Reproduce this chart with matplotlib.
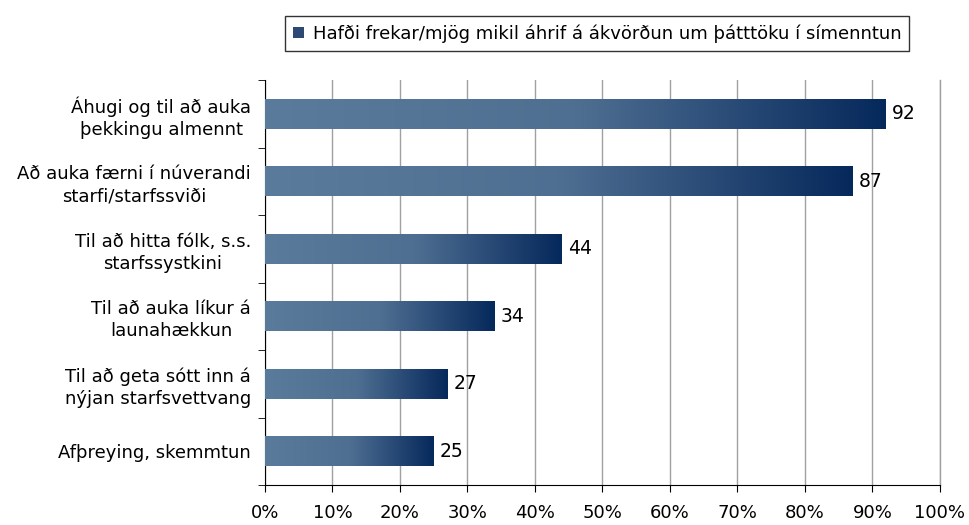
import numpy as np
import matplotlib
matplotlib.use("Agg")
import matplotlib.pyplot as plt
from matplotlib.colors import LinearSegmentedColormap
from matplotlib.patches import Rectangle

categories = [
    "Áhugi og til að auka\nþekkingu almennt",
    "Að auka færni í núverandi\nstarfi/starfssviði",
    "Til að hitta fólk, s.s.\nstarfssystkini",
    "Til að auka líkur á\nlaunahækkun",
    "Til að geta sótt inn á\nnýjan starfsvettvang",
    "Afþreying, skemmtun",
]
values = [92, 87, 44, 34, 27, 25]
legend_label = "Hafði frekar/mjög mikil áhrif á ákvörðun um þátttöku í símenntun"
xticks = [0, 10, 20, 30, 40, 50, 60, 70, 80, 90, 100]

plt.rcParams['font.family'] = ['DejaVu Sans']
fs = 13

fig = plt.figure(figsize=(9.7, 5.25), dpi=100)
ax = fig.add_axes([265/970, 1-485/525, 675/970, 405/525])

cmap = LinearSegmentedColormap.from_list("g", ["#5b7b9c", "#4f6f92", "#06295c"])
grad = np.linspace(0, 1, 256).reshape(1, -1)
n = len(categories)
ypos = np.arange(n)
bh = 0.44
for y, v in zip(ypos, values):
    ax.imshow(grad, cmap=cmap, aspect='auto', extent=[0, v, y + bh/2, y - bh/2],
              zorder=3, interpolation='bilinear')
    ax.text(v + 0.9, y, f"{v}", va='center', ha='left', fontsize=13.5, zorder=4)

ax.set_xlim(0, 100)
ax.set_ylim(n - 0.5, -0.5)
ax.set_xticks(xticks)
ax.set_xticklabels([f"{t}%" for t in xticks], fontsize=fs)
ax.set_yticks(ypos)
ax.set_yticklabels(categories, fontsize=fs, ha='right', linespacing=1.3)
ax.tick_params(axis='y', length=0, pad=10)
ax.set_yticks(np.arange(-0.5, n, 1), minor=True)
ax.tick_params(axis='y', which='minor', length=5, direction='out')
ax.tick_params(axis='x', length=5, direction='out', pad=9)
for lbl in ax.get_yticklabels():
    lbl.set_multialignment('center')

ax.grid(axis='x', color='#a0a0a0', linewidth=1, zorder=0)
ax.axvline(100, color='#a0a0a0', linewidth=1, zorder=0, clip_on=False)
ax.set_axisbelow(True)
for s in ['top', 'right']:
    ax.spines[s].set_visible(False)
ax.spines['left'].set_color('black')
ax.spines['bottom'].set_color('black')

handle = Rectangle((0, 0), 1, 1, facecolor='#2c4a74', edgecolor='none')
leg = fig.legend([handle], [legend_label], loc='center', bbox_to_anchor=(597/970, 1-33.5/525),
                 fontsize=fs, frameon=True, fancybox=False, edgecolor='black',
                 handlelength=0.6, handleheight=0.6, handletextpad=0.5, borderpad=0.45,
                 borderaxespad=0)
leg.get_frame().set_linewidth(1)

fig.savefig("out.png", dpi=100)
